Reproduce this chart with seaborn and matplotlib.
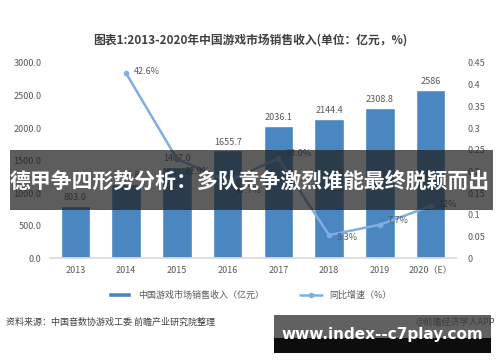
import matplotlib
matplotlib.use("Agg")
import matplotlib.pyplot as plt
import seaborn as sns
import numpy as np
import pandas as pd
from matplotlib.patches import Rectangle

sns.set_theme(style="white")
plt.rcParams['font.family'] = ['Noto Sans CJK SC', 'DejaVu Sans']

years = ["2013", "2014", "2015", "2016", "2017", "2018", "2019", "2020（E）"]
revenue = [803.0, 1144.8, 1407.0, 1655.7, 2036.1, 2144.4, 2308.8, 2586]
revenue_labels = ["803.0", "1144.8", "1407.0", "1655.7", "2036.1", "2144.4", "2308.8", "2586"]
growth_years = ["2014", "2015", "2016", "2017", "2018", "2019", "2020（E）"]
growth = [0.426, 0.229, 0.177, 0.230, 0.053, 0.077, 0.12]
growth_labels = ["42.6%", "22.9%", "17.7%", "23.0%", "5.3%", "7.7%", "12%"]
left_ticks = [0, 500, 1000, 1500, 2000, 2500, 3000]
right_ticks = [0, 0.05, 0.1, 0.15, 0.2, 0.25, 0.3, 0.35, 0.4, 0.45]
right_tick_labels = ["0", "0.05", "0.1", "0.15", "0.2", "0.25", "0.3", "0.35", "0.4", "0.45"]

bar_color = "#4A86C0"
line_color = "#7FAEE3"
txt = "#595959"

fig = plt.figure(figsize=(5, 3.62), dpi=100)
ax = fig.add_axes([0.10, 0.287, 0.812, 0.539])

df = pd.DataFrame({"year": years, "revenue": revenue})
sns.barplot(data=df, x="year", y="revenue", color=bar_color, width=0.58,
            saturation=1, ax=ax, label="中国游戏市场销售收入（亿元）")
ax.set_ylim(0, 3000)
ax.set_xlim(-0.5, 7.5)
ax.set_yticks(left_ticks)
ax.set_yticklabels([f"{v:.1f}" for v in left_ticks], fontsize=6.5, color=txt)
ax.set_xticks(range(len(years)))
ax.set_xticklabels(years, fontsize=6.5, color=txt)
ax.set_xlabel("")
ax.set_ylabel("")
for s in ["top", "right", "left"]:
    ax.spines[s].set_visible(False)
ax.spines["bottom"].set_color("#d9d9d9")
ax.tick_params(axis="both", length=0, pad=6)
for i, (v, lab) in enumerate(zip(revenue, revenue_labels)):
    ax.text(i, v + 60, lab, ha="center", va="bottom", fontsize=6.5, color=txt)

ax2 = ax.twinx()
gx = [years.index(y) for y in growth_years]
gdf = pd.DataFrame({"x": gx, "growth": growth})
sns.lineplot(data=gdf, x="x", y="growth", ax=ax2, color=line_color, linewidth=1.8,
             marker="o", markersize=4, markeredgewidth=0, label="同比增速（%）")
ax2.set_ylim(0, 0.45)
ax2.set_xlim(-0.5, 7.5)
ax2.set_yticks(right_ticks)
ax2.set_yticklabels(right_tick_labels, fontsize=6.5, color=txt)
ax2.set_ylabel("")
ax2.set_xlabel("")
for s in ["top", "right", "left", "bottom"]:
    ax2.spines[s].set_visible(False)
ax2.tick_params(axis="y", length=0, pad=8)
label_dy = [0.005, -0.03, -0.02, 0.012, -0.005, 0.01, 0.003]
for x, v, lab, dy in zip(gx, growth, growth_labels, label_dy):
    ax2.text(x + 0.15, v + dy, lab, ha="left", va="center", fontsize=6.5, color=txt)

# legend
h1, l1 = ax.get_legend_handles_labels()
h2, l2 = ax2.get_legend_handles_labels()
if ax2.get_legend():
    ax2.get_legend().remove()
if ax.get_legend():
    ax.get_legend().remove()
fig.legend(h1 + h2, l1 + l2, loc="center", bbox_to_anchor=(0.5, 0.185), ncol=2,
           frameon=False, fontsize=6.5, labelcolor=txt, handlelength=2.5,
           columnspacing=4, handleheight=0.5)

fig.text(0.5, 0.89, "图表1:2013-2020年中国游戏市场销售收入(单位：亿元，%)",
         ha="center", va="center", fontsize=8.5, fontweight="bold", color="#404040")
fig.text(0.012, 0.11, "资料来源：中国音数协游戏工委 前瞻产业研究院整理",
         ha="left", va="center", fontsize=6.5, color="#404040")
fig.text(0.99, 0.11, "@前瞻经济学人APP", ha="right", va="center", fontsize=6.5, color="#404040")

# overlay banner
fig.patches.append(Rectangle((0.02, 1 - 210 / 362), 0.965, 60 / 362, transform=fig.transFigure,
                             facecolor="#1e1e1e", alpha=0.72, edgecolor="none", zorder=10))
fig.text(0.5, 1 - 181 / 362, "德甲争四形势分析：多队竞争激烈谁能最终脱颖而出",
         ha="center", va="center", fontsize=15, fontweight="bold", color="white", zorder=11)

# watermark box
fig.patches.append(Rectangle((0.548, 1 - 338 / 362), 0.434, 23 / 362, transform=fig.transFigure,
                             facecolor="#3a3a3a", alpha=0.8, edgecolor="none", zorder=10))
fig.patches.append(Rectangle((0.548, 1 - 353 / 362), 0.434, 15 / 362, transform=fig.transFigure,
                             facecolor="black", alpha=0.95, edgecolor="none", zorder=10))
fig.text(0.765, 1 - 335 / 362, "www.index--c7play.com", ha="center", va="center",
         fontsize=11, fontweight="bold", color="white", family=["DejaVu Sans"], zorder=11)

fig.savefig("out.png", dpi=100)
